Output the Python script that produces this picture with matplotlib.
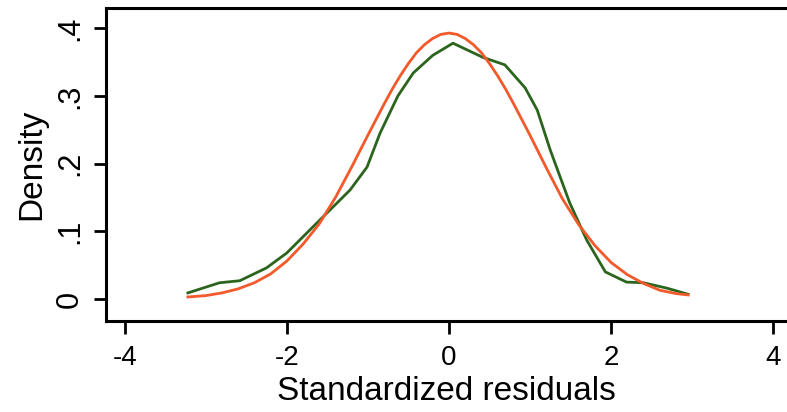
import matplotlib
matplotlib.use('Agg')
import matplotlib.pyplot as plt

plt.rcParams['font.family'] = ['Liberation Sans', 'DejaVu Sans']
plt.rcParams['axes.unicode_minus'] = False

# kernel density of residuals (green)
kd_x = [-3.22, -2.83, -2.58, -2.25, -2.0, -1.59, -1.22, -1.01, -0.85, -0.63,
        -0.44, -0.20, 0.05, 0.42, 0.69, 0.94, 1.09, 1.25, 1.49, 1.70,
        1.93, 2.19, 2.40, 2.69, 2.95]
kd_y = [0.009, 0.024, 0.027, 0.046, 0.068, 0.117, 0.161, 0.195, 0.245, 0.300,
        0.334, 0.360, 0.378, 0.357, 0.346, 0.312, 0.279, 0.220, 0.142, 0.087,
        0.040, 0.025, 0.024, 0.016, 0.007]

# normal density overlay (orange)
nd_x = [-3.22, -3.0, -2.8, -2.6, -2.4, -2.2, -2.0, -1.8, -1.6, -1.4, -1.2,
        -1.0, -0.9, -0.8, -0.7, -0.6, -0.5, -0.4, -0.3, -0.2, -0.1, 0.0,
        0.1, 0.2, 0.3, 0.4, 0.5, 0.6, 0.7, 0.8, 0.9, 1.0, 1.2,
        1.4, 1.6, 1.8, 2.0, 2.2, 2.4, 2.6, 2.8, 2.95]
nd_y = [0.003, 0.005, 0.009, 0.015, 0.024, 0.037, 0.056, 0.081, 0.111, 0.150, 0.195,
        0.242, 0.265, 0.288, 0.310, 0.330, 0.348, 0.364, 0.376, 0.385, 0.391, 0.393,
        0.391, 0.385, 0.376, 0.364, 0.348, 0.330, 0.310, 0.288, 0.265, 0.242, 0.194,
        0.148, 0.110, 0.079, 0.054, 0.036, 0.023, 0.013, 0.008, 0.006]

xticks = [-4, -2, 0, 2, 4]
yticks = [0, 0.1, 0.2, 0.3, 0.4]
ytick_labels = ['0', '.1', '.2', '.3', '.4']

fig = plt.figure(figsize=(7.87, 4.12), dpi=100)
ax = fig.add_axes([106/787, 91/412, 681/787, 313/412])

ax.plot(kd_x, kd_y, color='#2b641c', linewidth=2.0)
ax.plot(nd_x, nd_y, color='#f2592b', linewidth=2.0)

ax.set_xlim(-4.23, 4.17)
ax.set_ylim(-0.0325, 0.43)
ax.set_xticks(xticks)
ax.set_yticks(yticks)
ax.set_yticklabels(ytick_labels, rotation=90, va='center')

for s in ['left', 'top', 'bottom']:
    ax.spines[s].set_linewidth(2.2)
ax.spines['right'].set_visible(False)
ax.tick_params(axis='both', length=9, width=2.0)
ax.tick_params(axis='x', pad=8, labelsize=20)
ax.tick_params(axis='y', pad=6, labelsize=22)

ax.set_xlabel('Standardized residuals', fontsize=24, labelpad=4)
ax.set_ylabel('Density', fontsize=24, labelpad=6)

fig.savefig('out.png', dpi=100)
